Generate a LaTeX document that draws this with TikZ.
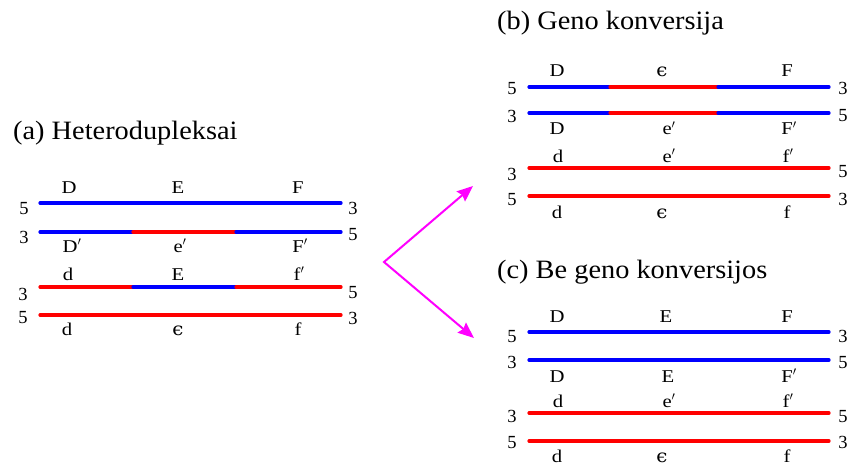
\documentclass[tikz,border=0pt]{standalone}
\usepackage{fontspec}
\setmainfont{Liberation Serif}
\newfontfamily\genefont[FakeStretch=1.15]{Liberation Serif}
\newfontfamily\titlefont[FakeStretch=1.07]{Liberation Serif}
\newfontfamily\epsfont[FakeStretch=1.1]{DejaVu Serif}
\usetikzlibrary{arrows.meta}
\definecolor{forkpink}{RGB}{255,0,255}

\begin{document}
\begin{tikzpicture}[x=1pt,y=-1pt,
    strand/.style={line width=3.2pt,line cap=round},
    gene/.style={font=\genefont\fontsize{18}{20}\selectfont,anchor=base,inner sep=0pt},
    endnum/.style={font=\fontsize{18.5}{20}\selectfont,anchor=base,inner sep=0pt},
    title/.style={font=\titlefont\fontsize{26.5}{30}\selectfont,anchor=base west,inner sep=0pt},
    >={Stealth[length=16pt,width=13pt,inset=2pt]}]
  \useasboundingbox (0,0) rectangle (850,465);

  % (a) heteroduplexes
  \node[title] (ta) at (13,140) {(a) Heterodupleksai};
  \coordinate (a1w) at (40,203);  \coordinate (a1e) at (341,203);
  \coordinate (a2w) at (40,232);  \coordinate (a2l) at (133,232);
  \coordinate (a2r) at (236,232); \coordinate (a2e) at (341,232);
  \coordinate (a3w) at (40,287);  \coordinate (a3l) at (133,287);
  \coordinate (a3r) at (236,287); \coordinate (a3e) at (341,287);
  \coordinate (a4w) at (40,315);  \coordinate (a4e) at (341,315);
  \draw[strand,blue] (a1w) -- (a1e);
  \draw[strand,blue] (a2w) -- (a2l);
  \draw[strand,red]  (a2l) -- (a2r);
  \draw[strand,blue] (a2r) -- (a2e);
  \draw[strand,red]  (a3w) -- (a3l);
  \draw[strand,blue] (a3l) -- (a3r);
  \draw[strand,red]  (a3r) -- (a3e);
  \draw[strand,red]  (a4w) -- (a4e);
  \node[endnum] (a1n5) at (24,214)  {5};
  \node[endnum] (a1n3) at (353,214) {3};
  \node[endnum] (a2n3) at (24,243)  {3};
  \node[endnum] (a2n5) at (353,240) {5};
  \node[endnum] (a3n3) at (23,300)  {3};
  \node[endnum] (a3n5) at (353,298) {5};
  \node[endnum] (a4n5) at (23,323)  {5};
  \node[endnum] (a4n3) at (353,324) {3};
  \node[gene] (aD1) at (69,193)  {D};
  \node[gene] (aE1) at (178,193) {E};
  \node[gene] (aF1) at (298,193) {F};
  \node[gene] (aD2) at (72,252)  {D$'$};
  \node[gene] (aE2) at (180,252) {e$'$};
  \node[gene] (aF2) at (300,252) {F$'$};
  \node[gene] (aD3) at (68,280)  {d};
  \node[gene] (aE3) at (178,280) {E};
  \node[gene] (aF3) at (299,280) {f$'$};
  \node[gene] (aD4) at (67,335)  {d};
  \node[gene] (aE4) at (178,335) {\epsfont ϵ};
  \node[gene] (aF4) at (298,335) {f};

  % fork towards (b) and (c)
  \coordinate (fork) at (384,262);
  \coordinate (tob) at (473,186);
  \coordinate (toc) at (474,338);
  \draw[<->,forkpink,line width=2pt] (tob) -- (fork) -- (toc);

  % (b) gene conversion
  \node[title] (tb) at (497,30) {(b) Geno konversija};
  \coordinate (b1w) at (529,87);  \coordinate (b1l) at (610,87);
  \coordinate (b1r) at (718,87);  \coordinate (b1e) at (829,87);
  \coordinate (b2w) at (529,113); \coordinate (b2l) at (610,113);
  \coordinate (b2r) at (718,113); \coordinate (b2e) at (829,113);
  \coordinate (b3w) at (529,168); \coordinate (b3e) at (829,168);
  \coordinate (b4w) at (529,196); \coordinate (b4e) at (829,196);
  \draw[strand,blue] (b1w) -- (b1l);
  \draw[strand,red]  (b1l) -- (b1r);
  \draw[strand,blue] (b1r) -- (b1e);
  \draw[strand,blue] (b2w) -- (b2l);
  \draw[strand,red]  (b2l) -- (b2r);
  \draw[strand,blue] (b2r) -- (b2e);
  \draw[strand,red]  (b3w) -- (b3e);
  \draw[strand,red]  (b4w) -- (b4e);
  \node[endnum] (b1n5) at (512,95)  {5};
  \node[endnum] (b1n3) at (843,95)  {3};
  \node[endnum] (b2n3) at (512,123) {3};
  \node[endnum] (b2n5) at (843,122) {5};
  \node[endnum] (b3n3) at (512,180) {3};
  \node[endnum] (b3n5) at (843,178) {5};
  \node[endnum] (b4n5) at (512,205) {5};
  \node[endnum] (b4n3) at (843,205) {3};
  \node[gene] (bD1) at (557,77)  {D};
  \node[gene] (bE1) at (662,77)  {\epsfont ϵ};
  \node[gene] (bF1) at (787,77)  {F};
  \node[gene] (bD2) at (557,135) {D};
  \node[gene] (bE2) at (669,135) {e$'$};
  \node[gene] (bF2) at (789,135) {F$'$};
  \node[gene] (bD3) at (558,162) {d};
  \node[gene] (bE3) at (669,162) {e$'$};
  \node[gene] (bF3) at (788,162) {f$'$};
  \node[gene] (bD4) at (557,218) {d};
  \node[gene] (bE4) at (662,218) {\epsfont ϵ};
  \node[gene] (bF4) at (787,218) {f};

  % (c) no gene conversion
  \node[title] (tc) at (497,278) {(c) Be geno konversijos};
  \coordinate (c1w) at (529,332); \coordinate (c1e) at (829,332);
  \coordinate (c2w) at (529,360); \coordinate (c2e) at (829,360);
  \coordinate (c3w) at (529,413); \coordinate (c3e) at (829,413);
  \coordinate (c4w) at (529,441); \coordinate (c4e) at (829,441);
  \draw[strand,blue] (c1w) -- (c1e);
  \draw[strand,blue] (c2w) -- (c2e);
  \draw[strand,red]  (c3w) -- (c3e);
  \draw[strand,red]  (c4w) -- (c4e);
  \node[endnum] (c1n5) at (512,342) {5};
  \node[endnum] (c1n3) at (843,342) {3};
  \node[endnum] (c2n3) at (512,368) {3};
  \node[endnum] (c2n5) at (843,368) {5};
  \node[endnum] (c3n3) at (512,422) {3};
  \node[endnum] (c3n5) at (843,422) {5};
  \node[endnum] (c4n5) at (512,448) {5};
  \node[endnum] (c4n3) at (843,448) {3};
  \node[gene] (cD1) at (557,322) {D};
  \node[gene] (cE1) at (666,322) {E};
  \node[gene] (cF1) at (787,322) {F};
  \node[gene] (cD2) at (557,382) {D};
  \node[gene] (cE2) at (668,382) {E};
  \node[gene] (cF2) at (789,382) {F$'$};
  \node[gene] (cD3) at (558,407) {d};
  \node[gene] (cE3) at (669,407) {e$'$};
  \node[gene] (cF3) at (788,407) {f$'$};
  \node[gene] (cD4) at (557,462) {d};
  \node[gene] (cE4) at (662,462) {\epsfont ϵ};
  \node[gene] (cF4) at (787,462) {f};
\end{tikzpicture}
\end{document}
